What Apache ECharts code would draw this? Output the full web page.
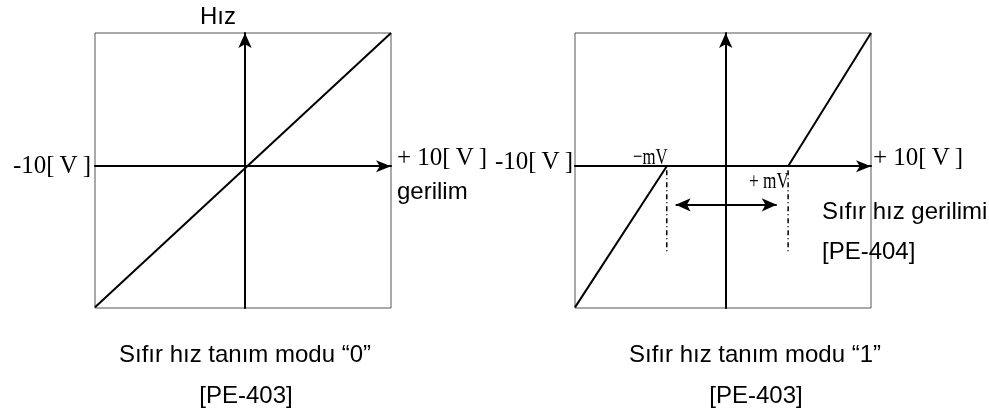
<!DOCTYPE html>
<html>
<head>
<meta charset="utf-8">
<script src="https://cdn.jsdelivr.net/npm/echarts@6/dist/echarts.min.js"></script>
<style>
  html, body { margin: 0; padding: 0; background: #fff; }
  #main { width: 989px; height: 414px; }
</style>
</head>
<body>
<div id="main"></div>
<script>
// reference voltage [V] on x, speed on y (top of box = 10)
var mode0Line = [[-10, -10.6], [10, 10]];
// mode 1: no speed inside the -mV .. +mV band
var mode1Low = [[-10, -10.6], [-3.8, 0]];
var mode1High = [[4.4, 0], [10, 10]];
var guideLeft = [[-3.8, -0.3], [-3.8, -6.5]];
var guideRight = [[4.4, -0.3], [4.4, -6.5]];
var bandArrow = [[-3.2, -2.9], [3.63, -2.9]];

var chart = echarts.init(document.getElementById('main'), null, { renderer: 'canvas' });

var serif = '"Liberation Serif", "DejaVu Serif", serif';
var sans = '"Liberation Sans", Arial, sans-serif';

// axes are drawn as crossing arrows inside each box
function axisX(i) {
  return {
    type: 'value', gridIndex: i, min: -10, max: 10,
    axisLine: { onZero: true, symbol: ['none', 'arrow'], symbolSize: [9, 15],
      lineStyle: { color: '#000', width: 2 } },
    axisTick: { show: false }, axisLabel: { show: false }, splitLine: { show: false }
  };
}
function axisY(i, off) {
  return {
    type: 'value', gridIndex: i, min: -10.65, max: 10,
    position: 'left', offset: off,
    axisLine: { onZero: false, symbol: ['none', 'arrow'], symbolSize: [10, 15],
      lineStyle: { color: '#000', width: 2 } },
    axisTick: { show: false }, axisLabel: { show: false }, splitLine: { show: false }
  };
}
function lineSeries(data, i, style) {
  return {
    type: 'line', data: data, xAxisIndex: i, yAxisIndex: i,
    showSymbol: false, silent: true, z: 3,
    lineStyle: style || { color: '#000', width: 2 }
  };
}
function txt(text, x, y, font, align, sx) {
  return {
    type: 'text', x: x, y: y, silent: true, scaleX: sx || 1,
    style: { text: text, font: font, fill: '#000',
      align: align || 'left', verticalAlign: 'middle' }
  };
}

var guideStyle = { color: '#000', width: 1.5, type: [5, 3, 1, 3] };
var volt = '25px ' + serif;

var option = {
  animation: false,
  backgroundColor: '#fff',
  grid: [
    { left: 95, top: 33, width: 296, height: 275, show: true, borderColor: '#555', borderWidth: 1 },
    { left: 575, top: 33, width: 296, height: 275, show: true, borderColor: '#555', borderWidth: 1 }
  ],
  xAxis: [axisX(0), axisX(1)],
  yAxis: [axisY(0, -150), axisY(1, -150.7)],
  series: [
    lineSeries(mode0Line, 0),
    lineSeries(mode1Low, 1),
    lineSeries(mode1High, 1),
    lineSeries(guideLeft, 1, guideStyle),
    lineSeries(guideRight, 1, guideStyle),
    {
      type: 'line', data: [], xAxisIndex: 1, yAxisIndex: 1,
      markLine: {
        silent: true, symbol: ['arrow', 'arrow'], symbolSize: [10, 15],
        label: { show: false },
        lineStyle: { color: '#000', width: 2, type: 'solid' },
        data: [[{ coord: bandArrow[0] }, { coord: bandArrow[1] }]]
      }
    }
  ],
  graphic: [
    txt('Hız', 218, 17, '24px ' + sans, 'center'),
    txt('-10[\u2009V\u2009]', 91, 166, volt, 'right'),
    txt('+ 10[\u2009V\u2009]', 397, 158, volt),
    txt('gerilim', 397, 192, '24px ' + sans),
    txt('-10[\u2009V\u2009]', 573, 162, volt, 'right'),
    txt('\u2212mV', 633, 158, '24px ' + serif, 'left', 0.7),
    txt('+ mV', 749, 182, '24px ' + serif, 'left', 0.72),
    txt('+ 10[\u2009V\u2009]', 873, 158, volt),
    txt('Sıfır hız gerilimi', 822, 212, '24px ' + sans),
    txt('[PE-404]', 822, 252, '24px ' + sans),
    txt('Sıfır hız tanım modu “0”', 245, 355, '24px ' + sans, 'center'),
    txt('[PE-403]', 246, 396, '24px ' + sans, 'center'),
    txt('Sıfır hız tanım modu “1”', 755, 355, '24px ' + sans, 'center'),
    txt('[PE-403]', 756, 396, '24px ' + sans, 'center')
  ]
};

chart.setOption(option);
</script>
</body>
</html>
